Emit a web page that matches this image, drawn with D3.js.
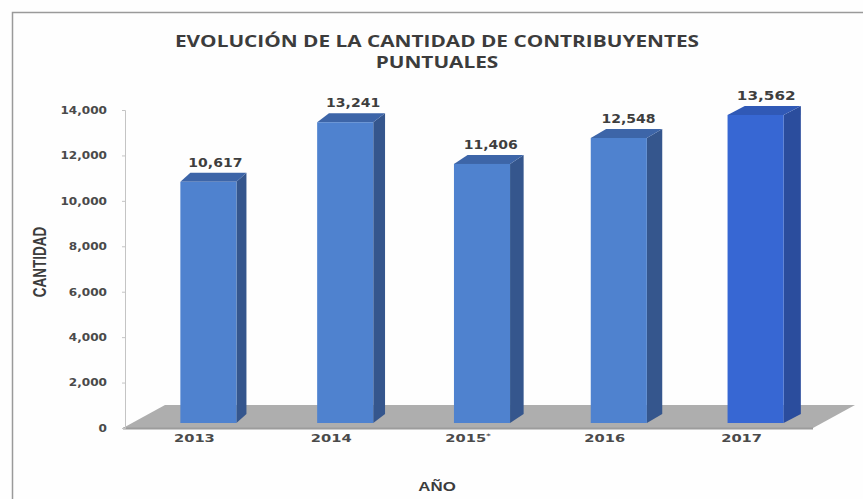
<!DOCTYPE html>
<html>
<head>
<meta charset="utf-8">
<script src="https://cdn.jsdelivr.net/npm/d3@7"></script>
<style>
  html, body { margin: 0; padding: 0; background: #ffffff; }
  svg { display: block; }
</style>
</head>
<body>
<svg id="chart" width="863" height="499"></svg>
<script>
// Datos: contribuyentes puntuales por año
const years = ["2013", "2014", "2015*", "2016", "2017"];
const cantidad = [10617, 13241, 11406, 12548, 13562];
const yTicks = [0, 2000, 4000, 6000, 8000, 10000, 12000, 14000];
const titleLines = ["EVOLUCIÓN DE LA CANTIDAD DE CONTRIBUYENTES", "PUNTUALES"];

const svg = d3.select("#chart");
const W = 863, H = 499;
// los textos del gráfico van ensanchados horizontalmente
const SX = 1.3;

svg.append("rect").attr("width", W).attr("height", H).attr("fill", "#fefefe");
// marco del gráfico
svg.append("rect")
  .attr("x", 12.5).attr("y", 12.5).attr("width", 870).attr("height", 520)
  .attr("fill", "none").attr("stroke", "#9a9a9a").attr("stroke-width", 1.5);

const x = d3.scaleBand().domain(years).range([126, 810])
  .paddingInner(0.59).paddingOuter(0.295);
const y = d3.scaleLinear().domain([0, 14000]).range([428, 110]);

// piso en perspectiva
const floorDepth = [42, -23];
const fl = x.range()[0] - 3, fr = x.range()[1] + 3, fy = y(0);
svg.append("polygon")
  .attr("points", [[fl, fy], [fl + floorDepth[0], fy + floorDepth[1]],
                   [fr + floorDepth[0], fy + floorDepth[1]], [fr, fy]].map(p => p.join(",")).join(" "))
  .attr("fill", "#aeaeae");
svg.append("line")
  .attr("x1", fl).attr("x2", fr).attr("y1", fy + 0.5).attr("y2", fy + 0.5)
  .attr("stroke", "#9c9c9c").attr("stroke-width", 2);

// eje Y
const yAxis = svg.append("g")
  .attr("transform", "translate(125,0)")
  .call(d3.axisLeft(y).tickValues(yTicks).tickFormat(d3.format(",")).tickSize(3).tickPadding(15));
yAxis.select(".domain").attr("stroke", "#c4c4c4");
yAxis.selectAll(".tick line").attr("stroke", "#c4c4c4");
yAxis.selectAll(".tick text")
  .attr("font-family", "'DejaVu Sans', Verdana, sans-serif")
  .attr("font-weight", "bold")
  .attr("font-size", 10.5)
  .attr("fill", "#4a4a4a")
  .attr("transform", "translate(-18,0) scale(1.15,1)")
  .attr("x", 0);

// barras 3D
const shift = [14, -5];
const palette = {
  normal: { front: "#4f82cf", side: "#35568d", top: "#3d65a8" },
  last:   { front: "#3767d3", side: "#2b4d9d", top: "#3059b6" }
};
const bars = svg.append("g").selectAll("g").data(years).join("g");
bars.each(function (yr, i) {
  const g = d3.select(this);
  const c = i === years.length - 1 ? palette.last : palette.normal;
  const w = x.bandwidth();
  const fx = x(yr) + shift[0];
  const yb = y(0) + shift[1];
  const yt = y(cantidad[i]) + shift[1];
  const dx = 10 + i * 1.8, dy = -9;
  g.append("polygon")
    .attr("points", [[fx + w, yt], [fx + w + dx, yt + dy], [fx + w + dx, yb + dy], [fx + w, yb]].map(p => p.join(",")).join(" "))
    .attr("fill", c.side);
  g.append("polygon")
    .attr("points", [[fx, yt], [fx + dx, yt + dy], [fx + w + dx, yt + dy], [fx + w, yt]].map(p => p.join(",")).join(" "))
    .attr("fill", c.top);
  g.append("rect")
    .attr("x", fx).attr("y", yt).attr("width", w).attr("height", yb - yt)
    .attr("fill", c.front);
  g.append("text")
    .attr("transform", `translate(${fx + w / 2 + dx / 2 + 2},${yt + dy - 6}) scale(1.22,1)`)
    .attr("text-anchor", "middle")
    .attr("font-family", "'DejaVu Sans', Verdana, sans-serif")
    .attr("font-weight", "bold")
    .attr("font-size", i === years.length - 1 ? 12.5 : 11.5)
    .attr("fill", "#3e3e3e")
    .text(d3.format(",")(cantidad[i]));
});

// etiquetas de años
svg.append("g").selectAll("text").data(years).join("text")
  .attr("transform", d => `translate(${x(d) + x.bandwidth() / 2},442) scale(1.4,1)`)
  .attr("text-anchor", "middle")
  .attr("font-family", "'DejaVu Sans', Verdana, sans-serif")
  .attr("font-weight", "bold")
  .attr("font-size", 10.5)
  .attr("fill", "#4a4a4a")
  .each(function (d) {
    const t = d3.select(this);
    t.append("tspan").text(d.replace("*", ""));
    if (d.endsWith("*")) {
      t.append("tspan").attr("font-size", 6).attr("dy", -4).text("*");
    }
  });

// títulos
svg.append("g").selectAll("text").data(titleLines).join("text")
  .attr("transform", (d, i) => `translate(437,${47 + i * 21}) scale(${SX},1)`)
  .attr("text-anchor", "middle")
  .attr("font-family", "'Open Sans', sans-serif")
  .attr("font-weight", "bold")
  .attr("font-size", 16)
  .attr("fill", "#3c3c3c")
  .text(d => d);

svg.append("text")
  .attr("transform", `translate(46,262) scale(${SX},1) rotate(-90)`)
  .attr("text-anchor", "middle")
  .attr("font-family", "'Liberation Sans Narrow', 'Arial Narrow', sans-serif")
  .attr("font-weight", "bold")
  .attr("font-size", 13.5)
  .attr("fill", "#3c3c3c")
  .text("CANTIDAD");

svg.append("text")
  .attr("transform", `translate(437,491) scale(${SX},1)`)
  .attr("text-anchor", "middle")
  .attr("font-family", "'Liberation Sans', Arial, sans-serif")
  .attr("font-weight", "bold")
  .attr("font-size", 13)
  .attr("fill", "#3c3c3c")
  .text("AÑO");
</script>
</body>
</html>
